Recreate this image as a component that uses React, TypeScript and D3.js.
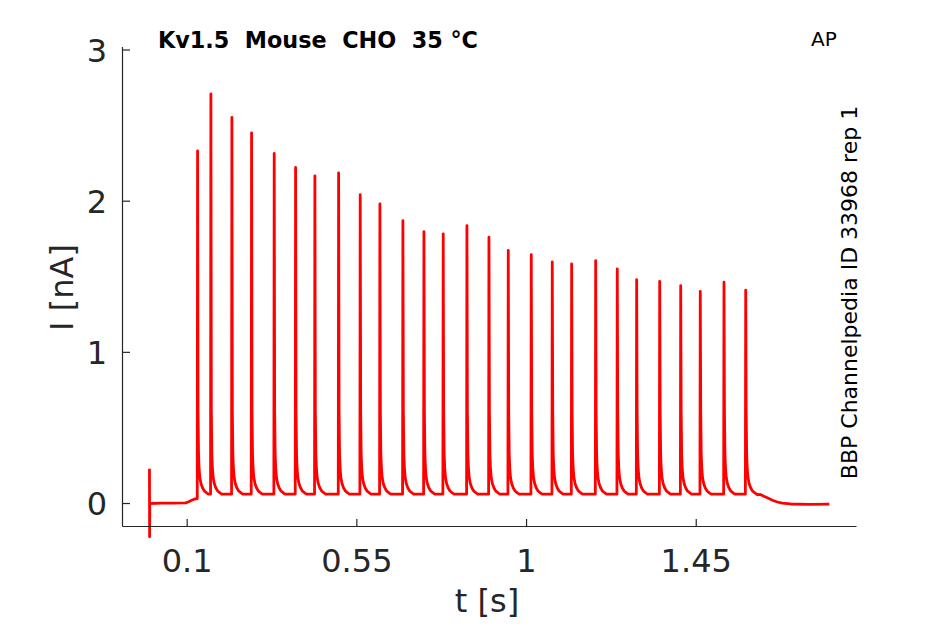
import React from "react";
import * as d3 from "d3";

// ---- data ----
const xTickValues = [0.1, 0.55, 1, 1.45];
const xTickLabels = ["0.1", "0.55", "1", "1.45"];
const yTickValues = [0, 1, 2, 3];
const yTickLabels = ["0", "1", "2", "3"];

// spike peak times (s) and peak currents (nA)
const spikeTimes = [
  0.1276, 0.1629, 0.2186, 0.2708, 0.3308, 0.3875, 0.4387, 0.5016, 0.5589,
  0.6111, 0.6721, 0.7279, 0.779, 0.8419, 0.9003, 0.9515, 1.0125, 1.0682,
  1.1196, 1.1833, 1.2406, 1.292, 1.3531, 1.4088, 1.4607, 1.5236, 1.5812,
];
const spikePeaks = [
  2.333, 2.709, 2.554, 2.452, 2.316, 2.223, 2.168, 2.187, 2.044, 1.982, 1.872,
  1.799, 1.784, 1.839, 1.762, 1.675, 1.647, 1.598, 1.585, 1.607, 1.552, 1.481,
  1.47, 1.442, 1.404, 1.464, 1.411,
];
// tail after each spike: time after peak (s) and current above baseline (nA)
const tailDt = [0.0012, 0.0025, 0.004, 0.006, 0.009, 0.013, 0.018, 0.025];
const tailDI = [0.55, 0.27, 0.17, 0.11, 0.07, 0.042, 0.021, 0.007];
const interSpikeBaseline = 0.062;

// trace before the first spike (artifact at t=0 and small ramp)
const preTimes = [0, 0.0004, 0.0008, 0.03, 0.06, 0.096, 0.104, 0.112, 0.12, 0.1262];
const preValues = [0.23, -0.22, 0.0, 0.002, 0.003, 0.004, 0.012, 0.022, 0.03, 0.032];
// trace after the last spike
const postTimes = [1.612, 1.62, 1.628, 1.64, 1.652, 1.665, 1.678, 1.7, 1.75, 1.803];
const postValues = [0.058, 0.06, 0.05, 0.036, 0.022, 0.01, 0.002, -0.003, -0.005, -0.004];

function buildTrace(): [number, number][] {
  const pts: [number, number][] = [];
  preTimes.forEach((t, i) => pts.push([t, preValues[i]]));
  spikeTimes.forEach((t, i) => {
    const base = i === 0 ? preValues[preValues.length - 1] : interSpikeBaseline;
    pts.push([t - 0.0009, base]);
    pts.push([t, spikePeaks[i]]);
    tailDt.forEach((dt, k) => pts.push([t + dt, interSpikeBaseline + tailDI[k]]));
    pts.push([t + 0.029, interSpikeBaseline]);
  });
  postTimes.forEach((t, i) => pts.push([t, postValues[i]]));
  return pts;
}

const W = 945;
const H = 624;
const axisColor = "#262626";
const font = "DejaVu Sans";

export default function App() {
  const x = d3.scaleLinear().domain([-0.0715, 1.875]).range([122.5, 856.5]);
  const y = d3.scaleLinear().domain([-0.152, 3.02]).range([526.5, 47]);
  const line = d3
    .line<[number, number]>()
    .x((d) => x(d[0]))
    .y((d) => y(d[1]));
  const trace = buildTrace();
  const x0 = x.range()[0];
  const y0 = y.range()[0];

  return (
    <svg
      width={W}
      height={H}
      viewBox={`0 0 ${W} ${H}`}
      style={{ position: "absolute", left: 0, top: 0, background: "#fff" }}
      fontFamily={font}
    >
      <rect x={0} y={0} width={W} height={H} fill="#fff" />
      {/* trace */}
      <path
        d={line(trace) || ""}
        fill="none"
        stroke="#ff0000"
        strokeWidth={2.8}
        strokeLinejoin="round"
      />
      {/* axes */}
      <line x1={x0} x2={x0} y1={y.range()[1]} y2={y0} stroke={axisColor} strokeWidth={1.2} />
      <line x1={x0} x2={x.range()[1]} y1={y0} y2={y0} stroke={axisColor} strokeWidth={1.2} />
      {xTickValues.map((v, i) => (
        <g key={"xt" + i}>
          <line x1={x(v)} x2={x(v)} y1={y0} y2={y0 - 7.5} stroke={axisColor} strokeWidth={1.2} />
          <text x={x(v)} y={572} textAnchor="middle" fontSize={32} fill={axisColor}>
            {xTickLabels[i]}
          </text>
        </g>
      ))}
      {yTickValues.map((v, i) => (
        <g key={"yt" + i}>
          <line x1={x0} x2={x0 + 7.5} y1={y(v)} y2={y(v)} stroke={axisColor} strokeWidth={1.2} />
          <text x={107} y={y(v) + 11.7} textAnchor="end" fontSize={32} fill={axisColor}>
            {yTickLabels[i]}
          </text>
        </g>
      ))}
      {/* axis labels */}
      <text x={487} y={612} textAnchor="middle" fontSize={32} fill={axisColor}>
        t [s]
      </text>
      <text
        transform="translate(73,287.5) rotate(-90)"
        textAnchor="middle"
        fontSize={32}
        fill={axisColor}
      >
        I [nA]
      </text>
      {/* title and annotations */}
      <text x={158} y={48} fontSize={22.3} fontWeight="bold" fill="#000" style={{ whiteSpace: "pre" }}>
        {"Kv1.5  Mouse  CHO  35 °C"}
      </text>
      <text x={811} y={46} fontSize={20} fill="#000">
        AP
      </text>
      <text
        transform="translate(857,292.5) rotate(-90)"
        textAnchor="middle"
        fontSize={22}
        fill="#000"
      >
        BBP Channelpedia ID 33968 rep 1
      </text>
    </svg>
  );
}
